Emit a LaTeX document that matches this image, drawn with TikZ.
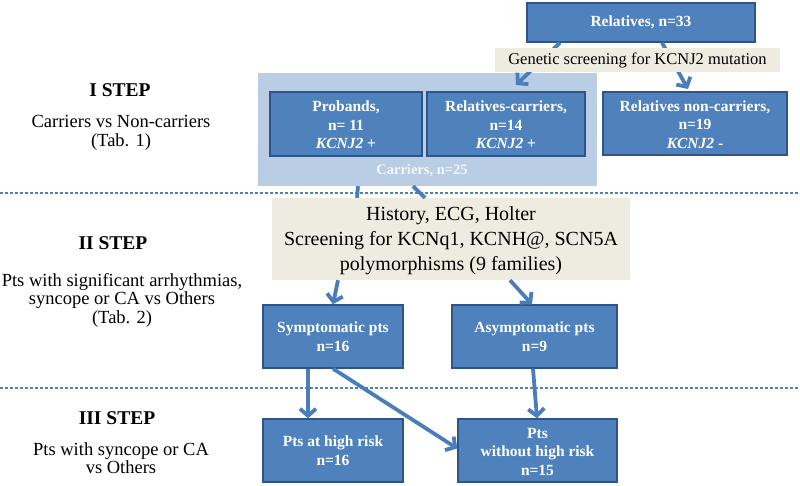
\documentclass[tikz,border=0pt]{standalone}
\usepackage{fontspec}
\setmainfont{Liberation Serif}
\usetikzlibrary{arrows.meta}
\definecolor{boxblue}{HTML}{4F81BD}
\definecolor{boxedge}{HTML}{2F5485}
\definecolor{lightblue}{HTML}{B9CDE5}
\definecolor{tan}{HTML}{EEECE1}
\definecolor{arrowblue}{HTML}{4A7EBB}
\definecolor{cartext}{HTML}{F4F7FB}
\begin{document}
\begin{tikzpicture}[x=1pt,y=-1pt,
  bluebox/.style={draw=boxedge, line width=1.4pt, fill=boxblue, text=white, inner sep=0pt,
    font=\fontsize{15.5}{18.5}\selectfont\bfseries, align=center},
  tanbox/.style={fill=tan, inner sep=0pt, align=center},
  conn/.style={draw=arrowblue, line width=3.8pt, -{Straight Barb[length=7pt,width=16pt]}},
  plainconn/.style={draw=arrowblue, line width=3.8pt},
  sep/.style={draw=boxblue, line width=1.4pt, dash pattern=on 3pt off 2pt},
  steptitle/.style={font=\fontsize{19.5}{22}\selectfont\bfseries},
  steptext/.style={font=\fontsize{18.5}{18.5}\selectfont, align=center}]
\useasboundingbox (0,0) rectangle (800,486);

% separators
\draw[sep] (0,193) -- (800,193);
\draw[sep] (0,388) -- (800,388);

% left step labels
\node[steptitle] (s1) at (120,90) {I STEP};
\node[steptext] (s1t) at (121,133) {Carriers vs Non-carriers\\(Tab. 1)};
\node[steptitle] (s2) at (113,243) {II STEP};
\node[steptext] (s2t) at (122,300) {Pts with significant arrhythmias,\\syncope or CA vs Others\\(Tab. 2)};
\node[steptitle] (s3) at (117,418) {III STEP};
\node[steptext] (s3t) at (121,458) {Pts with syncope or CA\\vs Others};

% carriers background
\node[fill=lightblue, minimum width=339pt, minimum height=113pt, inner sep=0pt] (car) at (427.5,129.5) {};
\node[text=cartext, font=\fontsize{14.5}{16}\selectfont\bfseries] (cart) at (422,171) {Carriers, n=25};

% top
\node[bluebox, minimum width=228pt, minimum height=39pt] (rel) at (641,22.5) {Relatives, n=33};

% arrows from relatives (behind tan box)
\draw[conn] ([xshift=-81pt]rel.south) -- (516,85) coordinate (relcartip);
\draw[conn] ([xshift=21pt]rel.south) -- (688,89) coordinate (relnontip);

\node[tanbox, minimum width=285pt, minimum height=24pt, font=\fontsize{16.5}{18}\selectfont] (gen) at (637.5,60) {Genetic screening for KCNJ2 mutation};

\node[bluebox, minimum width=152pt, minimum height=64pt] (prob) at (346,124) {\strut Probands,\\n= 11\\\textit{KCNJ2} +};
\node[bluebox, minimum width=158pt, minimum height=64pt] (relcar) at (506,124) {\strut Relatives-carriers,\\n=14\\\textit{KCNJ2} +};
\node[bluebox, minimum width=184pt, minimum height=63pt] (relnon) at (695,123.5) {\strut Relatives non-carriers,\\n=19\\\textit{KCNJ2} -};

% history
\node[tanbox, minimum width=358pt, minimum height=82pt, font=\fontsize{20}{25}\selectfont] (hist) at (451,239) {\strut History, ECG, Holter\\Screening for KCNq1, KCNH@, SCN5A\\polymorphisms (9 families)};
\draw[plainconn] ([xshift=-69.5pt]car.south) -- ([xshift=-94pt]hist.north);
\draw[plainconn] ([xshift=-14.5pt]car.south) -- ([xshift=-26pt]hist.north);

\node[bluebox, minimum width=140pt, minimum height=63pt] (symp) at (333,336.5) {Symptomatic pts\\n=16};
\node[bluebox, minimum width=165pt, minimum height=63pt] (asymp) at (534.5,336.5) {Asymptomatic pts\\n=9};

\draw[conn] ([xshift=-113pt]hist.south) -- (symp.north);
\draw[conn] ([xshift=59pt]hist.south) -- ([xshift=-2.5pt]asymp.north);

\node[bluebox, minimum width=140pt, minimum height=63pt] (high) at (333,450.5) {Pts at high risk\\n=16};
\node[bluebox, minimum width=159pt, minimum height=63pt] (without) at (537.5,450.5) {\strut Pts\\without high risk\\n=15};

\draw[conn] ([xshift=-25pt]symp.south) -- ([xshift=-25pt]high.north);
\draw[conn] (symp.south) -- ([yshift=2pt]without.west);
\draw[conn] ([xshift=-1.5pt]asymp.south) -- ([xshift=-0.5pt]without.north);
\end{tikzpicture}
\end{document}
